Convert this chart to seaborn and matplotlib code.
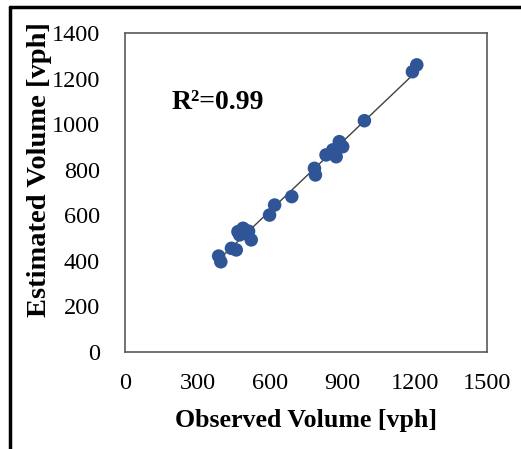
import matplotlib
matplotlib.use("Agg")
import matplotlib.pyplot as plt
from matplotlib.lines import Line2D
import seaborn as sns
import pandas as pd

observed = [388, 397, 441, 461, 468, 475, 480, 489, 495, 503, 512, 523,
            599, 620, 691, 785, 789, 833, 861, 875, 888, 902, 992, 1191, 1209]
estimated = [421, 396, 455, 448, 528, 514, 520, 543, 536, 521, 530, 492,
             601, 645, 682, 806, 777, 865, 887, 857, 923, 901, 1015, 1230, 1260]
x_ticks = [0, 300, 600, 900, 1200, 1500]
y_ticks = [0, 200, 400, 600, 800, 1000, 1200, 1400]
x_label = "Observed Volume [vph]"
y_label = "Estimated Volume [vph]"
r2_text = "R²=0.99"

df = pd.DataFrame({"obs": observed, "est": estimated})

sns.set_theme(style="white")
plt.rcParams["font.family"] = ["Liberation Serif", "DejaVu Serif"]

fig = plt.figure(figsize=(5.21, 4.49), dpi=100)
ax = fig.add_axes([125/521, 1-352/449, (487-125)/521, (352-33)/449])

sns.regplot(data=df, x="obs", y="est", scatter=False, ci=None, ax=ax,
            line_kws=dict(color="#404040", lw=1.0))
sns.scatterplot(data=df, x="obs", y="est", ax=ax, color="#2F5597",
                s=95, edgecolor="none", zorder=3)

ax.set_xlim(0, 1500)
ax.set_ylim(0, 1400)
ax.set_xticks(x_ticks)
ax.set_yticks(y_ticks)
ax.tick_params(axis="both", length=0, labelsize=17.5, labelcolor="black")
ax.tick_params(axis="y", pad=18)
ax.tick_params(axis="x", pad=15)
for s in ax.spines.values():
    s.set_color("#5a5a5a")
    s.set_linewidth(1.2)

ax.set_xlabel(x_label, fontsize=18.6, fontweight="bold", color="black")
ax.set_ylabel(y_label, fontsize=20.5, fontweight="bold", color="black")
ax.xaxis.set_label_coords(0.5, (352-421)/319)
ax.xaxis.label.set_va("center")
ax.yaxis.set_label_coords((40-125)/362, (352-170)/319)
ax.yaxis.label.set_va("center")

ax.text(195, 1093, r2_text, fontsize=20, fontweight="bold", va="center", ha="left",
        color="black")

fig.add_artist(Line2D([10/521, 1], [1-7/449, 1-7/449], transform=fig.transFigure,
                      color="black", lw=2.5))
fig.add_artist(Line2D([10/521, 10/521], [0, 1-7/449], transform=fig.transFigure,
                      color="black", lw=2.5))

fig.savefig("out.png", dpi=100)
